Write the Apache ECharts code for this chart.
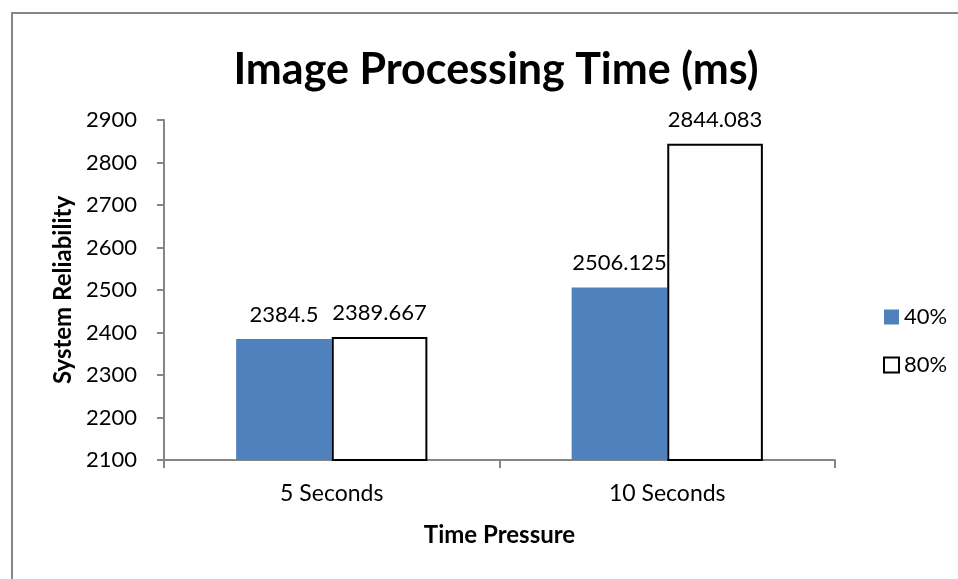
<!DOCTYPE html>
<html><head><meta charset="utf-8">
<script src="https://cdn.jsdelivr.net/npm/echarts@6/dist/echarts.min.js"></script>
<style>html,body{margin:0;padding:0;background:#fff}#c{width:958px;height:579px}</style>
</head><body><div id="c"></div>
<script>
const categories = ["5 Seconds", "10 Seconds"];
const series40 = [2384.5, 2506.125];
const series80 = [2389.667, 2844.083];
const seriesNames = ["40%", "80%"];
const yMin = 2100, yMax = 2900, yStep = 100;

const FONT = "Lato, 'Open Sans', sans-serif";
const chart = echarts.init(document.getElementById('c'), null, {renderer: 'canvas'});
chart.setOption({
  animation: false,
  backgroundColor: '#fff',
  graphic: [{type: 'rect', shape: {x: 12, y: 13, width: 960, height: 590}, style: {fill: 'none', stroke: '#868686', lineWidth: 2}, silent: true, z: -1}],
  title: {text: 'Image Processing Time (ms)', left: 491, textAlign: 'center', top: 44,
    textStyle: {fontFamily: FONT, fontSize: 43, fontWeight: 'bold', color: '#000'}},
  legend: {orient: 'vertical', left: 878, top: 301, itemGap: 26, itemWidth: 15, itemHeight: 15,
    icon: 'rect', itemStyle: {borderWidth: 2},
    textStyle: {fontFamily: FONT, fontSize: 22, color: '#000'},
    data: seriesNames},
  grid: {left: 164, right: 123, top: 120, bottom: 119, containLabel: false},
  xAxis: {type: 'category', data: categories,
    name: 'Time Pressure', nameLocation: 'middle', nameGap: 63,
    nameTextStyle: {fontFamily: FONT, fontSize: 24, fontWeight: 'bold', color: '#000'},
    axisLine: {lineStyle: {color: '#868686', width: 2}},
    axisTick: {show: true, length: 8, lineStyle: {color: '#868686', width: 2}},
    axisLabel: {fontFamily: FONT, fontSize: 23, color: '#000', margin: 22}},
  yAxis: {type: 'value', min: yMin, max: yMax, interval: yStep,
    name: 'System Reliability', nameLocation: 'middle', nameGap: 88, nameRotate: 90,
    nameTextStyle: {fontFamily: FONT, fontSize: 24, fontWeight: 'bold', color: '#000'},
    axisLine: {show: true, lineStyle: {color: '#868686', width: 2}},
    axisTick: {show: true, length: 7, lineStyle: {color: '#868686', width: 2}},
    splitLine: {show: false},
    axisLabel: {fontFamily: FONT, fontSize: 22, color: '#000', margin: 27, formatter: v => String(v)}},
  series: [
    {name: seriesNames[0], type: 'bar', data: series40, barGap: '0%', barCategoryGap: '43%',
     itemStyle: {color: '#4F81BD'},
     label: {show: true, position: 'top', distance: 13, fontFamily: FONT, fontSize: 22, color: '#000'}},
    {name: seriesNames[1], type: 'bar', data: series80, barGap: '0%', barCategoryGap: '43%',
     itemStyle: {color: '#fff', borderColor: '#000', borderWidth: 2},
     label: {show: true, position: 'top', distance: 13, fontFamily: FONT, fontSize: 22, color: '#000'}}
  ]
});
</script></body></html>
